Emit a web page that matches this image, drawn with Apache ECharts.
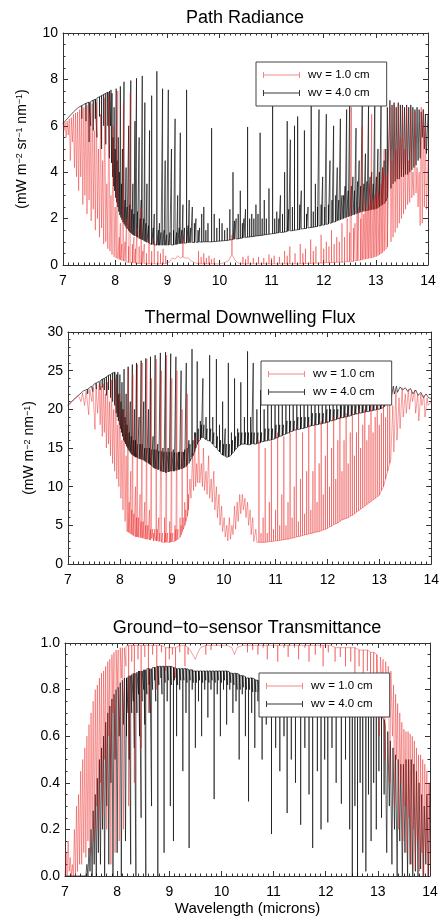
<!DOCTYPE html>
<html><head><meta charset="utf-8">
<script src="https://cdn.jsdelivr.net/npm/echarts@6/dist/echarts.min.js"></script>
<style>html,body{margin:0;padding:0;background:#fff;overflow:hidden}#c{width:442px;height:917px}</style>
</head><body><div id="c"></div>
<script>
const seriesNames = ['wv = 1.0 cm', 'wv = 4.0 cm'];
const panelTitles = ['Path Radiance', 'Thermal Downwelling Flux', 'Ground\u2212to\u2212sensor Transmittance'];
const yAxisNames = ['(mW m{s|\u22122} sr{s|\u22121} nm{s|\u22121})', '(mW m{s|\u22122} nm{s|\u22121})', ''];
const xAxisName = 'Wavelength (microns)';

// Entries: [wavelength, value]  or  [wavelength, value, lineValue] = a narrow line going from value to lineValue and back.

// Path radiance, wv = 4.0 cm
const pathRadWv4 = [[7.00,6.10],[7.10,6.35],[7.20,6.60],[7.30,6.80],[7.36,6.87,6.30],[7.40,6.92],[7.44,6.97,6.20],[7.50,7.02,5.30],[7.53,7.05,6.00],[7.58,7.10,5.80],[7.62,7.15,6.30],[7.65,7.20,5.50],[7.70,7.25,6.40],[7.74,7.30,5.00],[7.78,7.35,6.00],[7.82,7.40,5.20],[7.86,7.45,6.00],[7.89,7.50,4.60],
[7.91,6.00],[7.92,7.55],[7.93,4.40],[7.94,7.40],[7.95,3.80],[7.96,5.50],[7.97,3.40],[7.98,6.80],[7.99,3.20],[8.00,5.00],[8.01,2.90],[8.02,7.60],[8.03,2.70],[8.04,4.50],[8.05,2.50],[8.06,5.50],[8.07,2.30],[8.08,4.00],[8.09,2.15],[8.10,7.70],[8.11,2.05],[8.12,3.50],[8.13,1.95],[8.14,5.00],[8.15,1.85],
[8.17,1.78,7.90],[8.19,1.70,2.80],[8.21,1.62,4.20],[8.23,1.55,2.50],[8.26,1.48,6.00],[8.28,1.42,2.60],[8.30,1.38,7.95],[8.32,1.34,2.40],[8.34,1.30,3.50],[8.36,1.27,2.20],[8.38,1.25,6.20],[8.41,1.22,8.05],[8.43,1.19,2.30],[8.46,1.15,5.50],[8.48,1.12,2.00],[8.50,1.10,2.80],[8.52,1.08,8.15],[8.55,1.05,2.00],[8.57,1.02,7.00],[8.59,1.00,1.80],[8.61,0.97,3.50],[8.64,0.95,1.70],[8.66,0.92,5.80],[8.70,0.89,7.30],[8.73,0.88,1.60],[8.75,0.87,2.20],[8.80,0.86,8.35],[8.83,0.85,1.50],[8.85,0.85,1.80],[8.88,0.85,1.40],[8.91,0.85,7.60],[8.94,0.85,1.50],[8.96,0.85,4.50],[8.99,0.85,1.30],[9.02,0.85,7.55],[9.05,0.86,1.40],[9.08,0.86,5.00],[9.12,0.87,1.50],[9.15,0.87,6.30],[9.18,0.88,1.40],[9.20,0.90,3.00],[9.23,0.91,1.60],[9.25,0.92,5.70],[9.28,0.92,1.50],[9.30,0.93,2.60],[9.33,0.94,1.60],[9.37,0.95,7.55],[9.40,0.95,1.70],[9.42,0.96,2.80],[9.45,0.96,1.60],[9.48,0.97,2.50],[9.52,0.97,1.80],[9.55,0.98,2.00],[9.59,0.98,1.50],[9.62,0.99,1.60],[9.66,0.99,2.20],[9.70,1.00,2.50],[9.74,1.00,1.50],[9.78,1.00,1.80],[9.85,1.00,5.90],[9.90,1.01,2.20],[9.95,1.02,1.60],[10.00,1.03,2.00],[10.05,1.04,1.80],[10.10,1.05,1.50],[10.15,1.06,1.60],[10.20,1.08,2.40],[10.26,1.10,4.00],[10.29,1.11,1.90],[10.32,1.12,2.00],[10.36,1.13,2.20],[10.40,1.15,3.20],[10.44,1.16,1.80],[10.47,1.17,2.00],[10.50,1.18,2.40],[10.54,1.20,5.95],[10.58,1.21,2.00],[10.62,1.22,2.20],[10.66,1.23,2.00],[10.70,1.25,2.60],[10.74,1.26,2.20],[10.78,1.27,5.70],[10.82,1.28,2.00],[10.86,1.30,2.80],[10.90,1.31,2.00],[10.95,1.33,3.30],[11.02,1.35,7.50],[11.06,1.36,2.00],[11.10,1.38,2.30],[11.14,1.39,2.00],[11.17,1.40,3.00],[11.21,1.41,2.20],[11.25,1.42,4.00],[11.30,1.45,6.20],[11.33,1.46,2.40],[11.36,1.47,5.40],[11.40,1.48,2.50],[11.44,1.50,6.00],[11.50,1.52,6.40],[11.54,1.53,2.60],[11.57,1.55,3.20],[11.63,1.57,5.80],[11.67,1.58,2.20],[11.70,1.60,2.50],[11.76,1.62,7.50],[11.80,1.63,2.30],[11.84,1.65,3.50],[11.88,1.66,2.50],[11.91,1.68,6.70],[11.95,1.70,2.60],[11.98,1.72,3.80],[12.02,1.73,2.50],[12.05,1.75,6.50],[12.09,1.77,2.60],[12.12,1.80,4.50],[12.16,1.82,2.80],[12.19,1.85,6.00],[12.23,1.87,3.00],[12.26,1.90,4.20],[12.29,1.92,2.80],[12.32,1.95,6.30],[12.35,1.97,3.00],[12.38,2.00,3.00],[12.41,2.02,3.40],[12.44,2.05,6.70],[12.47,2.07,3.20],[12.50,2.10,7.50],[12.53,2.12,3.40],[12.56,2.15,3.80],[12.59,2.17,3.20],[12.62,2.20,5.90],[12.65,2.22,3.60],[12.68,2.25,4.50],[12.71,2.27,3.40],[12.74,2.30,7.40],[12.77,2.31,3.50],[12.80,2.32,4.80],[12.83,2.33,3.60],[12.86,2.35,6.90],[12.89,2.36,3.80],[12.92,2.38,4.00],[12.95,2.39,3.50],[12.98,2.40,7.10],[13.01,2.42,3.80],[13.04,2.45,5.00],[13.07,2.50,4.00],[13.10,2.55,7.00],[13.13,2.60,4.20],[13.16,2.65,4.50],[13.19,2.75,5.00],[13.22,2.90,6.80],
[13.24,2.90],[13.27,7.10],[13.29,3.30],[13.31,6.90],[13.33,3.50],[13.35,7.00],[13.37,3.60],[13.39,6.80],[13.41,3.70],[13.43,7.00],[13.45,3.70],[13.47,6.90],[13.49,3.80],[13.51,6.90],[13.53,3.80],[13.55,6.80],[13.57,3.90],[13.59,6.90],[13.61,3.90],[13.63,6.80],[13.65,4.00],[13.67,6.90],[13.69,4.10],[13.71,6.80],[13.73,4.20],[13.75,6.70],[13.77,4.30],[13.79,6.80],[13.81,4.50],[13.83,6.70],[13.85,4.60],[13.87,6.60],[13.89,5.50],[13.91,6.70],[13.93,5.00],[13.95,6.50],[13.97,4.80],[14.00,6.50]];

// Path radiance, wv = 1.0 cm
const pathRadWv1 = [[7.00,6.10],[7.02,5.80],[7.04,6.15],[7.06,5.50],[7.08,6.20],[7.10,5.60],[7.12,6.30],[7.14,4.50],[7.16,6.35],[7.18,5.30],[7.20,6.50],[7.22,4.20],[7.24,6.55],[7.26,3.80],[7.28,6.60],[7.30,3.20],[7.32,6.70],[7.34,3.80],[7.36,6.70],[7.38,2.60],[7.40,6.80],[7.42,3.00],[7.44,6.85],[7.46,2.20],[7.48,6.90],[7.50,2.80],[7.52,6.50],[7.54,1.90],[7.56,6.95],[7.58,2.40],[7.60,5.80],[7.62,1.50],[7.64,7.00],[7.66,2.00],[7.68,5.00],[7.70,1.20],[7.72,6.50],[7.74,1.60],[7.76,4.50],[7.78,0.90],[7.80,7.20],[7.82,1.00],[7.84,3.50],[7.86,0.70],[7.88,7.40],[7.90,0.60],[7.92,3.00],[7.94,0.45],[7.96,6.00],[7.98,0.35],[8.00,2.50],[8.02,0.30],
[8.05,0.28,7.50],[8.08,0.24,1.20],[8.10,0.22,1.80],[8.13,0.19,0.90],[8.16,0.17,7.00],[8.19,0.15,1.00],[8.22,0.13,2.00],[8.26,0.11,0.80],[8.29,0.10,7.40],[8.33,0.09,0.90],[8.36,0.08,1.20],[8.39,0.07,0.70],[8.42,0.07,1.60],[8.46,0.06,0.80],[8.50,0.06,2.50],[8.53,0.06,0.60],[8.56,0.06,0.90],[8.60,0.05,0.50],[8.65,0.05,1.20],[8.70,0.05,0.60],[8.75,0.05,1.00],[8.82,0.05,0.60],[8.87,0.05,0.50],[8.92,0.05,0.70],[8.97,0.06,0.40],[9.00,0.10],[9.05,0.15],[9.10,0.30],[9.15,0.25],[9.20,0.40],[9.25,0.30],[9.30,0.35,1.20],[9.35,0.30],[9.40,0.30],[9.45,0.20],[9.50,0.12],[9.55,0.08],[9.60,0.06,0.60],[9.65,0.05,0.35],[9.70,0.05,0.50],[9.75,0.05,0.30],[9.80,0.05,0.40],[9.85,0.05,0.25],[9.90,0.05,0.30],[10.00,0.05],[10.10,0.10],[10.18,0.20],[10.24,0.45,1.30],[10.30,0.20],[10.35,0.10],[10.40,0.06],[10.45,0.05,0.35],[10.50,0.05,0.25],[10.55,0.05,0.40],[10.65,0.05,0.30],[10.75,0.05,0.35],[10.85,0.05,0.30],[10.95,0.05,0.45],[11.00,0.05,0.30],[11.05,0.05,0.40],[11.15,0.05,0.35],[11.25,0.05,0.60],[11.30,0.05,0.40],[11.35,0.05,0.80],[11.45,0.05,0.50],[11.55,0.05,0.90],[11.60,0.06,0.50],[11.65,0.06,0.70],[11.75,0.07,1.10],[11.80,0.07,0.60],[11.85,0.08,0.80],[11.95,0.08,1.30],[12.00,0.09,0.70],[12.05,0.10,1.00],[12.10,0.10,0.80],[12.15,0.10,1.50],[12.20,0.11,0.90],[12.25,0.12,1.20],[12.30,0.12,1.00],[12.35,0.12,1.80],[12.40,0.13,1.20],[12.45,0.15,2.00],[12.50,0.15,1.40],[12.53,0.15,6.80],[12.57,0.16,1.60],[12.60,0.18,1.80],[12.64,0.19,2.20],[12.67,0.20,2.50],[12.71,0.21,2.00],[12.74,0.22,6.00],[12.77,0.23,2.20],[12.80,0.25,2.80],[12.83,0.26,2.40],[12.86,0.28,3.50],[12.89,0.29,2.60],[12.92,0.30,6.50],[12.95,0.32,2.80],[12.98,0.34,3.00],[13.01,0.36,3.20],[13.04,0.40,4.00],[13.07,0.44,3.00],[13.10,0.48,3.50],[13.13,0.53,4.20],[13.16,0.60,5.00],[13.19,0.68,3.80],[13.22,0.78,4.00],
[13.24,0.80],[13.27,6.80],[13.29,1.00],[13.31,4.50],[13.33,1.20],[13.35,6.90],[13.37,1.40],[13.39,5.00],[13.41,1.60],[13.43,6.90],[13.45,1.80],[13.47,5.50],[13.49,2.00],[13.51,6.80],[13.53,2.20],[13.55,5.00],[13.57,2.40],[13.59,6.80],[13.61,2.60],[13.63,4.50],[13.65,2.70],[13.67,6.70],[13.69,2.90],[13.71,4.00],[13.73,3.00],[13.75,6.60],[13.77,3.10],[13.79,4.20],[13.81,2.50],[13.83,4.00],[13.85,1.70],[13.87,6.80],[13.89,1.80],[13.91,6.70],[13.93,2.50],[13.95,6.00],[13.97,2.40],[14.00,4.50]];

// Thermal downwelling flux, wv = 4.0 cm
const downFluxWv4 = [[7.00,20.5],[7.10,21.2],[7.20,21.8],[7.30,22.4],[7.38,22.6,22.0],[7.45,23.0],[7.48,23.1,22.3],[7.53,23.4],[7.55,23.45,22.6],[7.60,23.6],[7.62,23.7,22.5],[7.66,23.9,22.8],[7.70,24.0,22.5],[7.74,24.2,21.8],[7.78,24.4,22.5],[7.82,24.5,21.5],[7.86,24.7,21.0],[7.90,24.8,20.5],
[7.92,25.0],[7.93,19.5],[7.94,24.5],[7.95,19.0],[7.96,24.8],[7.97,18.5],[7.98,22.0],[7.99,18.0],[8.00,24.5],[8.01,17.5],[8.02,21.0],[8.03,17.0],[8.04,23.5],[8.05,16.5],[8.06,20.0],[8.07,16.0],[8.08,25.2],[8.09,15.8],[8.10,19.0],[8.11,15.5],[8.12,22.0],[8.13,15.2],[8.14,18.0],[8.15,15.0],
[8.16,14.8,25.5],[8.18,14.6,17.0],[8.20,14.4,21.0],[8.22,14.2,16.5],[8.24,14.1,25.8],[8.26,14.0,16.0],[8.28,13.9,20.0],[8.30,13.8,16.0],[8.32,13.8,26.0],[8.34,13.7,15.5],[8.37,13.6,19.0],[8.39,13.6,15.5],[8.41,13.5,26.3],[8.43,13.5,15.5],[8.46,13.4,21.0],[8.48,13.3,15.0],[8.50,13.2,26.6],[8.52,13.1,15.0],[8.55,13.0,20.0],[8.57,12.9,15.0],[8.59,12.8,26.8],[8.61,12.7,14.8],[8.64,12.5,16.5],[8.66,12.4,14.8],[8.68,12.3,27.0],[8.70,12.3,14.8],[8.73,12.2,15.5],[8.75,12.2,14.6],[8.78,12.0,27.3],[8.80,12.0,14.6],[8.83,11.9,15.0],[8.85,11.9,14.5],[8.88,11.8,27.4],[8.90,11.8,14.5],[8.93,11.9,15.0],[8.95,11.9,14.5],[8.98,12.0,27.2],[9.00,12.0,14.5],[9.03,12.0,14.8],[9.05,12.0,14.4],[9.08,12.1,26.8],[9.10,12.1,14.4],[9.13,12.2,14.5],[9.15,12.2,14.5],[9.18,12.3,25.0],[9.20,12.3,14.5],[9.23,12.4,14.5],[9.25,12.5,14.8],[9.28,12.6,26.0],[9.30,12.8,15.0],[9.33,13.0,16.0],[9.35,13.3,15.5],[9.39,13.8,27.8],[9.41,14.0,16.0],[9.44,14.5,17.0],[9.46,15.0,17.0],[9.49,15.5,26.2],[9.51,15.8,17.5],[9.55,16.1,18.5],[9.57,16.3,18.0],[9.60,16.3,24.0],[9.62,16.3,18.0],[9.66,16.1,19.0],[9.68,16.0,17.5],[9.73,15.9,27.0],[9.75,15.8,17.5],[9.79,15.5,19.0],[9.81,15.3,17.0],[9.86,15.0,26.5],[9.88,14.8,16.5],[9.92,14.5,18.0],[9.94,14.3,16.0],[9.98,14.1,21.0],[10.00,14.0,15.5],[10.03,13.9,17.5],[10.05,13.8,15.5],[10.09,13.85,26.0],[10.11,13.9,15.5],[10.15,14.1,17.0],[10.17,14.3,16.0],[10.21,14.6,24.0],[10.23,14.8,16.5],[10.27,15.1,17.5],[10.29,15.3,17.0],[10.33,15.4,23.5],[10.35,15.5,17.0],[10.40,15.5,19.0],[10.42,15.5,17.0],[10.46,15.45,27.5],[10.48,15.4,17.0],[10.52,15.45,19.0],[10.54,15.5,17.0],[10.57,15.5,26.0],[10.59,15.5,17.0],[10.64,15.55,20.0],[10.66,15.6,17.0],[10.71,15.7,22.5],[10.73,15.8,17.0],[10.78,15.85,20.0],[10.80,15.9,17.5],[10.85,15.95,23.0],[10.87,16.0,17.5],[10.92,16.05,21.0],[10.94,16.1,17.5],[10.99,16.2,24.0],[11.01,16.3,18.0],[11.06,16.4,21.5],[11.08,16.5,18.0],[11.13,16.6,23.0],[11.15,16.7,18.0],[11.20,16.8,21.0],[11.22,16.9,18.5],[11.27,17.0,24.0],[11.29,17.1,18.5],[11.34,17.2,21.5],[11.36,17.3,18.5],[11.41,17.35,23.5],[11.43,17.4,19.0],[11.48,17.45,21.0],[11.50,17.5,19.0],[11.55,17.55,23.0],[11.57,17.6,19.0],[11.62,17.7,21.5],[11.64,17.8,19.0],[11.69,17.85,23.5],[11.71,17.9,19.5],[11.76,17.95,21.0],[11.78,18.0,19.5],[11.83,18.05,23.0],[11.85,18.1,19.5],[11.90,18.15,21.5],[11.92,18.2,19.5],[11.97,18.25,23.0],[11.99,18.3,20.0],[12.04,18.4,21.0],[12.06,18.5,20.0],[12.11,18.55,22.5],[12.13,18.6,20.0],[12.18,18.7,21.5],[12.20,18.8,20.0],[12.25,18.85,22.5],[12.27,18.9,20.5],[12.32,18.95,21.5],[12.34,19.0,20.5],[12.39,19.05,22.5],[12.41,19.1,20.5],[12.46,19.2,21.5],[12.48,19.3,20.5],[12.53,19.35,22.5],[12.55,19.4,20.5],[12.60,19.45,21.5],[12.62,19.5,20.8],[12.67,19.55,22.5],[12.69,19.6,20.8],[12.74,19.65,21.5],[12.76,19.7,20.8],[12.81,19.75,22.0],[12.83,19.8,21.0],[12.88,19.85,21.5],[12.90,19.9,21.0],[12.95,19.95,22.5],[12.97,20.0,21.0],[13.02,20.05,22.0],[13.04,20.1,21.0],[13.09,20.3,22.5],[13.11,20.5,21.5],
[13.15,22.8],[13.17,21.0],[13.21,23.0],[13.23,21.5],[13.27,23.0],[13.29,22.0],[13.33,23.0],[13.35,22.2],[13.40,22.9],[13.45,22.5],[13.50,22.8],[13.55,22.3],[13.60,22.7],[13.65,22.0],[13.70,22.5],[13.75,21.8],[13.80,22.2],[13.85,21.5],[13.90,22.0],[13.95,21.5],[14.00,21.4]];

// Thermal downwelling flux, wv = 1.0 cm
const downFluxWv1 = [[7.00,20.5],[7.10,21.2],[7.20,21.8],[7.25,21.0],[7.28,22.1],[7.32,20.5],[7.35,22.4],[7.40,19.3],[7.42,22.6],[7.46,21.0],[7.48,22.8],[7.52,17.4],[7.54,23.0],[7.57,19.5],[7.60,23.2],[7.62,18.0],[7.64,23.0],[7.66,16.5],[7.68,23.3],[7.70,17.0],[7.72,22.0],[7.74,15.0],[7.76,23.5],[7.78,15.5],[7.80,21.0],[7.82,14.0],[7.84,23.8],[7.86,13.0],[7.88,20.0],[7.90,12.0],[7.92,24.0],[7.94,11.0],[7.96,18.0],[7.98,10.0],[8.00,22.0],[8.02,8.5],[8.04,16.0],[8.06,7.0],[8.08,20.0],[8.10,5.5],[8.12,14.0],[8.14,4.2],
[8.16,4.1,25.5],[8.18,4.0,8.0],[8.21,3.9,12.0],[8.23,3.8,7.0],[8.25,3.7,24.5],[8.27,3.6,6.5],[8.30,3.5,10.0],[8.32,3.5,6.0],[8.34,3.5,25.8],[8.36,3.45,6.0],[8.39,3.4,9.0],[8.41,3.4,5.5],[8.43,3.35,26.0],[8.45,3.3,5.5],[8.48,3.25,8.0],[8.50,3.2,5.0],[8.52,3.2,26.5],[8.54,3.2,5.0],[8.57,3.1,7.0],[8.59,3.1,4.5],[8.61,3.3,24.0],[8.63,3.5,4.5],[8.65,3.0,4.0],[8.67,3.6,4.5],[8.70,3.0,26.5],[8.72,3.0,4.5],[8.75,2.9,6.0],[8.77,2.9,4.0],[8.80,2.8,25.0],[8.82,2.8,4.0],[8.86,2.8,6.0],[8.88,2.8,4.0],[8.90,2.8,27.0],[8.92,2.8,4.0],[8.96,2.8,5.5],[8.98,2.8,4.0],[9.00,2.85,24.0],[9.02,2.9,4.0],[9.06,2.95,5.0],[9.08,3.0,4.5],[9.10,3.1,25.0],[9.12,3.2,4.5],[9.16,3.5,6.0],[9.18,3.8,5.0],[9.20,4.2,20.0],[9.22,4.5,6.0],[9.25,5.0,8.0],[9.27,5.5,7.0],[9.30,6.2,22.0],[9.32,7.0,9.0],
[9.35,11.0],[9.37,8.5],[9.40,14.0],[9.42,9.5],[9.44,16.5],[9.46,10.0],[9.48,13.0],[9.50,10.5],[9.52,16.0],[9.54,10.5],[9.57,13.0],[9.59,10.0],[9.61,15.0],[9.63,9.5],[9.66,12.0],[9.68,9.0],[9.71,14.0],[9.73,8.5],[9.76,11.0],[9.78,8.0],[9.81,12.0],[9.83,7.0],[9.86,10.0],[9.88,6.0],[9.91,9.0],[9.93,5.0],[9.96,7.5],[9.98,4.2],[10.01,6.0],[10.03,3.5],[10.06,5.0],[10.08,3.0],[10.11,6.0],[10.13,3.2],[10.16,5.0],[10.18,3.8],[10.21,7.5],[10.23,4.5],[10.26,8.0],[10.28,5.5],[10.31,9.0],[10.33,6.5],[10.36,9.0],[10.38,7.0],[10.41,8.5],[10.43,6.0],[10.46,8.0],[10.48,5.0],[10.51,7.0],[10.53,3.8],[10.56,6.0],[10.58,2.9],[10.62,4.5],[10.64,2.8],
[10.68,2.8,16.0],[10.72,2.8,4.0],[10.76,2.8,6.0],[10.80,2.8,15.0],[10.84,2.85,4.0],[10.88,2.9,8.0],[10.92,2.9,16.0],[10.96,2.95,4.5],[11.00,3.0,7.0],[11.04,3.0,17.0],[11.08,3.05,5.0],[11.12,3.1,9.0],[11.16,3.15,16.5],[11.20,3.2,5.0],[11.24,3.2,8.0],[11.28,3.3,17.0],[11.32,3.35,6.0],[11.36,3.4,10.0],[11.40,3.5,17.5],[11.44,3.55,5.5],[11.48,3.6,11.0],[11.52,3.7,17.0],[11.56,3.75,6.5],[11.60,3.8,12.0],[11.64,3.9,18.0],[11.68,3.95,7.0],[11.72,4.0,12.0],[11.76,4.1,18.0],[11.80,4.15,8.0],[11.84,4.2,13.0],[11.88,4.3,18.5],[11.92,4.4,9.0],[11.96,4.5,14.0],[12.00,4.6,18.5],[12.04,4.8,10.0],[12.08,4.9,15.0],[12.12,5.1,19.0],[12.16,5.2,11.0],[12.20,5.3,16.0],[12.24,5.5,19.0],[12.28,5.7,12.0],[12.32,5.8,16.0],[12.36,5.9,19.5],[12.40,6.0,13.0],[12.44,6.2,17.0],[12.48,6.3,19.5],[12.52,6.5,14.0],[12.56,6.7,17.0],[12.60,6.9,20.0],[12.64,7.1,15.0],[12.68,7.3,18.0],[12.72,7.5,20.0],[12.76,7.7,16.0],[12.80,7.9,18.0],[12.84,8.1,20.5],[12.88,8.3,17.0],[12.92,8.5,19.0],[12.96,8.7,20.5],[13.00,8.9,18.0],[13.04,9.5,19.5],[13.08,10.0,21.0],[13.12,11.0,19.0],[13.16,12.0,20.5],[13.20,13.0,22.0],
[13.22,13.5],[13.26,20.5],[13.28,14.5],[13.32,22.5],[13.34,16.0],[13.38,21.5],[13.40,17.5],[13.44,22.8],[13.46,19.0],[13.50,22.0],[13.52,19.5],[13.56,22.6],[13.58,20.0],[13.62,22.3],[13.64,21.0],[13.68,22.5],[13.70,19.5],[13.74,22.0],[13.76,18.5],[13.80,22.0],[13.82,20.5],[13.86,21.8],[13.88,19.0],[13.92,21.5],[13.94,20.5],[14.00,21.0]];

// Ground-to-sensor transmittance, wv = 4.0 cm
const transWv4 = [[7.00,0.00],[7.40,0.00],[7.42,0.05],[7.44,0.00],[7.46,0.12],[7.48,0.02],[7.50,0.20],[7.52,0.00],[7.54,0.28],[7.56,0.05],[7.58,0.35],[7.60,0.00],[7.62,0.42],[7.64,0.10],[7.66,0.50],[7.68,0.05],[7.70,0.55],[7.72,0.20],[7.74,0.60],[7.76,0.00],[7.78,0.66],[7.80,0.30],[7.82,0.70],[7.84,0.05],[7.86,0.73],[7.88,0.40],[7.90,0.76],[7.92,0.00],[7.94,0.78],[7.96,0.50],[7.98,0.80],[8.00,0.10],[8.02,0.81],[8.04,0.60],[8.06,0.83],[8.08,0.00],[8.10,0.84],[8.12,0.65],[8.14,0.85],[8.16,0.15],
[8.18,0.85,0.60],[8.21,0.855,0.70],[8.23,0.86,0.50],[8.26,0.86,0.05],[8.28,0.865,0.70],[8.31,0.87,0.75],[8.33,0.87,0.55],[8.36,0.87,0.00],[8.38,0.875,0.70],[8.41,0.88,0.78],[8.43,0.88,0.60],[8.46,0.88,0.25],[8.48,0.88,0.75],[8.51,0.885,0.80],[8.53,0.885,0.65],[8.55,0.885,0.00],[8.57,0.89,0.78],[8.61,0.89,0.82],[8.63,0.89,0.70],[8.66,0.89,0.30],[8.68,0.895,0.80],[8.72,0.895,0.84],[8.74,0.895,0.75],[8.78,0.90,0.00],[8.80,0.90,0.82],[8.84,0.90,0.85],[8.86,0.90,0.78],[8.90,0.90,0.10],[8.92,0.90,0.83],[8.96,0.90,0.75],[8.98,0.90,0.84],[9.02,0.90,0.30],[9.04,0.90,0.82],[9.08,0.895,0.15],[9.10,0.895,0.84],[9.14,0.89,0.60],[9.16,0.89,0.82],[9.20,0.89,0.80],[9.22,0.89,0.84],[9.26,0.89,0.45],[9.28,0.89,0.84],[9.32,0.89,0.70],[9.34,0.89,0.83],[9.38,0.885,0.12],[9.40,0.885,0.84],[9.44,0.885,0.80],[9.46,0.88,0.83],[9.50,0.88,0.55],[9.52,0.88,0.83],[9.56,0.88,0.75],[9.58,0.88,0.84],[9.62,0.88,0.60],[9.64,0.88,0.83],[9.68,0.88,0.80],[9.70,0.88,0.84],[9.74,0.88,0.68],[9.76,0.88,0.83],[9.80,0.88,0.80],[9.82,0.88,0.84],[9.86,0.88,0.33],[9.88,0.88,0.83],[9.92,0.88,0.78],[9.94,0.88,0.84],[9.98,0.88,0.60],[10.00,0.88,0.83],[10.04,0.88,0.80],[10.06,0.88,0.84],[10.10,0.88,0.65],[10.12,0.88,0.82],[10.16,0.875,0.80],[10.18,0.87,0.83],[10.22,0.87,0.70],[10.24,0.87,0.82],[10.28,0.87,0.75],[10.30,0.87,0.80],[10.34,0.865,0.50],[10.36,0.86,0.80],[10.40,0.86,0.78],[10.42,0.86,0.81],[10.46,0.855,0.60],[10.48,0.85,0.80],[10.52,0.85,0.32],[10.54,0.85,0.80],[10.58,0.85,0.70],[10.60,0.85,0.79],[10.64,0.845,0.55],[10.66,0.84,0.79],[10.70,0.84,0.75],[10.72,0.84,0.79],[10.78,0.84,0.50],[10.86,0.84,0.65],[10.96,0.84,0.18],[11.04,0.84,0.55],[11.12,0.84,0.45],[11.20,0.84,0.60],[11.26,0.84,0.27],[11.34,0.835,0.50],[11.42,0.83,0.40],[11.52,0.83,0.22],[11.60,0.83,0.55],[11.68,0.83,0.35],[11.75,0.83,0.12],[11.84,0.825,0.45],[11.91,0.82,0.20],[11.98,0.82,0.50],[12.04,0.815,0.23],[12.12,0.80,0.55],[12.20,0.80,0.40],[12.30,0.79,0.31],[12.38,0.78,0.50],[12.46,0.77,0.20],[12.51,0.765,0.00],[12.56,0.755,0.30],[12.61,0.745,0.00],[12.66,0.735,0.40],[12.71,0.725,0.10],[12.77,0.72,0.02],[12.82,0.715,0.35],[12.87,0.71,0.15],[12.92,0.705,0.40],[12.97,0.70,0.20],[13.02,0.695,0.45],[13.07,0.685,0.25],[13.12,0.67,0.35],
[13.14,0.65],[13.17,0.10],[13.19,0.62],[13.22,0.30],[13.24,0.58],[13.27,0.05],[13.29,0.55],[13.32,0.20],[13.34,0.52],[13.37,0.00],[13.39,0.50],[13.42,0.15],[13.44,0.48],[13.47,0.00],[13.49,0.48],[13.52,0.10],[13.54,0.50],[13.57,0.00],[13.59,0.50],[13.62,0.05],[13.64,0.50],[13.67,0.00],[13.69,0.48],[13.72,0.02],[13.74,0.45],[13.77,0.00],[13.79,0.40],[13.82,0.03],[13.84,0.35],[13.87,0.00],[13.89,0.30],[13.92,0.05],[13.94,0.35],[13.97,0.00],[14.00,0.40]];

// Ground-to-sensor transmittance, wv = 1.0 cm
const transWv1 = [[7.00,0.00],[7.02,0.10],[7.04,0.00],[7.06,0.15],[7.08,0.02],[7.10,0.08],[7.12,0.00],[7.14,0.05],[7.16,0.00],[7.18,0.20],[7.20,0.00],[7.22,0.30],[7.24,0.02],[7.26,0.35],[7.28,0.05],[7.30,0.45],[7.32,0.05],[7.34,0.50],[7.36,0.10],[7.38,0.55],[7.40,0.08],[7.42,0.60],[7.44,0.15],[7.46,0.65],[7.48,0.10],[7.50,0.70],[7.52,0.20],[7.54,0.75],[7.56,0.15],[7.58,0.80],[7.60,0.30],[7.62,0.82],[7.64,0.20],[7.66,0.85],[7.68,0.40],[7.70,0.87],[7.72,0.25],[7.74,0.88],[7.76,0.50],[7.78,0.90],[7.80,0.20],[7.82,0.92],[7.84,0.60],[7.86,0.93],[7.88,0.05],[7.90,0.95],[7.92,0.70],[7.94,0.96],[7.96,0.10],[7.98,0.97],[8.00,0.80],[8.02,0.97],[8.04,0.15],[8.06,0.98],[8.08,0.85],[8.10,0.98],[8.12,0.20],[8.14,0.98],
[8.17,0.985,0.90],[8.22,0.99,0.30],[8.28,0.99,0.92],[8.33,0.99,0.40],[8.40,0.99,0.93],[8.46,0.99,0.55],[8.53,0.99,0.94],[8.60,0.99,0.70],[8.68,0.99,0.95],[8.76,0.99,0.80],[8.85,0.99,0.96],[8.93,0.98,0.88],[9.00,0.98,0.93],[9.06,0.98,0.95],[9.12,0.98,0.85],[9.20,0.99,0.96],[9.30,0.99,0.90],[9.36,0.98,0.95],[9.40,0.97],[9.45,0.95],[9.50,0.93],[9.55,0.96],[9.60,0.98],[9.70,0.99,0.95],[9.80,0.99,0.97],[9.90,0.99],[10.00,0.99],[10.10,0.99],[10.20,0.98],[10.25,0.95],[10.30,0.98],[10.40,0.99],[10.50,0.99,0.96],[10.60,0.99,0.97],[10.70,0.99,0.95],[10.80,0.99,0.98],[10.88,0.99,0.93],[11.00,0.99],[11.08,0.99,0.92],[11.20,0.99,0.98],[11.28,0.99,0.94],[11.40,0.99,0.98],[11.48,0.99,0.93],[11.60,0.99,0.98],[11.68,0.99,0.92],[11.80,0.99,0.95],[11.90,0.99,0.98],[11.95,0.99,0.90],[12.05,0.99,0.96],[12.10,0.99],[12.18,0.98,0.92],[12.28,0.98,0.94],[12.38,0.98,0.90],[12.48,0.98,0.92],[12.56,0.98,0.85],[12.64,0.97,0.90],[12.72,0.97,0.85],[12.80,0.97,0.88],[12.86,0.96,0.80],[12.92,0.96,0.70],[12.98,0.95,0.85],
[13.00,0.95],[13.03,0.60],[13.05,0.94],[13.08,0.80],[13.10,0.93],[13.13,0.50],[13.15,0.92],[13.18,0.75],[13.20,0.90],[13.23,0.40],[13.25,0.88],[13.28,0.60],[13.30,0.82],[13.32,0.30],[13.34,0.78],[13.36,0.50],[13.38,0.74],[13.40,0.20],[13.42,0.70],[13.44,0.40],[13.46,0.66],[13.48,0.15],[13.50,0.63],[13.52,0.30],[13.54,0.62],[13.56,0.10],[13.58,0.62],[13.60,0.25],[13.62,0.61],[13.64,0.05],[13.66,0.60],[13.68,0.20],[13.70,0.58],[13.72,0.03],[13.74,0.55],[13.76,0.15],[13.78,0.52],[13.80,0.02],[13.82,0.52],[13.84,0.10],[13.86,0.50],[13.88,0.00],[13.90,0.48],[13.92,0.10],[13.94,0.45],[13.96,0.00],[13.98,0.40],[14.00,0.05]];

const panelWv1 = [pathRadWv1, downFluxWv1, transWv1];
const panelWv4 = [pathRadWv4, downFluxWv4, transWv4];
const yMax = [10, 30, 1];
const yInterval = [2, 5, 0.2];
const yMinorSplit = [4, 5, 4];

// a narrow spectral line [x, v, p] is drawn as v -> p -> v at the same wavelength
function toLine(arr) {
  const out = [];
  arr.forEach(p => {
    if (p.length === 3) { out.push([p[0], p[1]], [p[0], p[2]], [p[0], p[1]]); }
    else out.push([p[0], p[1]]);
  });
  return out;
}

const FONT = '"Liberation Sans", Arial, Helvetica, sans-serif';
const RED = 'rgba(235,20,20,0.5)';
const BLACK = 'rgba(0,0,0,0.78)';
const grids = [
  {left: 63, top: 33, width: 365, height: 232},
  {left: 68, top: 332, width: 365, height: 232},
  {left: 65, top: 643, width: 365, height: 233}
];
const titlePos = [[245, 18], [250, 318], [247, 628]];
const legendPos = [[256, 62], [261, 361], [259, 673]];
const yNameGap = [34, 29, 0];

const axisLineStyle = {color: '#333', width: 1};
const xAxes = [], yAxes = [], series = [], legends = [], graphics = [];
grids.forEach((g, i) => {
  const xc = {gridIndex: i, type: 'value', min: 7, max: 14, interval: 1,
    axisLine: {show: true, onZero: false, lineStyle: axisLineStyle},
    axisTick: {show: true, inside: true, length: 5, lineStyle: axisLineStyle},
    minorTick: {show: true, splitNumber: 10, length: 2.5, lineStyle: axisLineStyle},
    splitLine: {show: false}};
  xAxes.push(Object.assign({}, xc, {position: 'bottom',
    axisLabel: {show: true, margin: 9, color: '#000', fontSize: 14, fontFamily: FONT},
    name: i === 2 ? xAxisName : '', nameLocation: 'middle', nameGap: 25,
    nameTextStyle: {color: '#000', fontSize: 15, fontFamily: FONT}}));
  xAxes.push(Object.assign({}, xc, {position: 'top', axisLabel: {show: false}}));
  const yc = {gridIndex: i, type: 'value', min: 0, max: yMax[i], interval: yInterval[i],
    axisLine: {show: true, onZero: false, lineStyle: axisLineStyle},
    axisTick: {show: true, inside: true, length: 5, lineStyle: axisLineStyle},
    minorTick: {show: true, splitNumber: yMinorSplit[i], length: 2.5, lineStyle: axisLineStyle},
    splitLine: {show: false}};
  yAxes.push(Object.assign({}, yc, {position: 'left',
    axisLabel: {show: true, margin: 5, color: '#000', fontSize: 14, fontFamily: FONT,
      formatter: i === 2 ? (v => v.toFixed(1)) : (v => String(v))},
    name: yAxisNames[i], nameLocation: 'middle', nameGap: yNameGap[i],
    nameTextStyle: {color: '#000', fontSize: 14, fontFamily: FONT,
      rich: {s: {fontSize: 9, fontFamily: FONT, color: '#000', verticalAlign: 'top', lineHeight: 14}}}}));
  yAxes.push(Object.assign({}, yc, {position: 'right', axisLabel: {show: false}}));

  series.push({name: seriesNames[1], type: 'line', xAxisIndex: 2 * i, yAxisIndex: 2 * i,
    data: toLine(panelWv4[i]), showSymbol: false, symbol: 'none', silent: true,
    lineStyle: {color: BLACK, width: 0.8}, itemStyle: {color: BLACK}, z: 2});
  series.push({name: seriesNames[0], type: 'line', xAxisIndex: 2 * i, yAxisIndex: 2 * i,
    data: toLine(panelWv1[i]), showSymbol: false, symbol: 'none', silent: true,
    lineStyle: {color: RED, width: 0.8}, itemStyle: {color: RED}, z: 3});

  legends.push({data: seriesNames.slice(), orient: 'vertical', left: legendPos[i][0], top: legendPos[i][1],
    icon: 'path://M0,0H1V6H0Z M36,0H37V6H36Z M0,2.5H37V3.5H0Z',
    itemWidth: 37, itemHeight: 6, itemGap: 6, padding: [7, 17, 7, 7],
    backgroundColor: '#fff', borderColor: '#444', borderWidth: 1, borderRadius: 0,
    selectedMode: false, z: 10,
    textStyle: {fontSize: 11.5, color: '#000', fontFamily: FONT, padding: [0, 0, 0, 3]}});

  graphics.push({type: 'text', x: titlePos[i][0], y: titlePos[i][1], z: 20,
    style: {text: panelTitles[i], fill: '#000', font: '18px ' + FONT, textAlign: 'center', textVerticalAlign: 'middle'}});
});

const chart = echarts.init(document.getElementById('c'), null, {renderer: 'canvas'});
chart.setOption({
  animation: false,
  backgroundColor: '#fff',
  grid: grids,
  xAxis: xAxes,
  yAxis: yAxes,
  legend: legends,
  series: series,
  graphic: graphics
});
</script></body></html>
